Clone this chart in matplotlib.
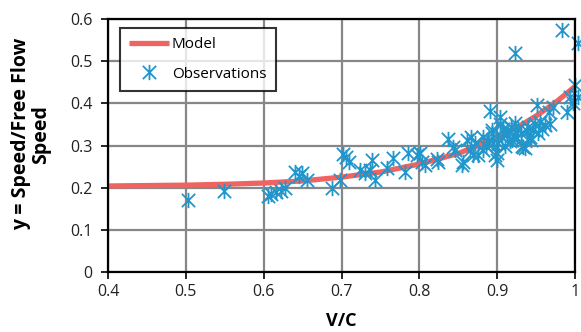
import matplotlib
matplotlib.use("Agg")
import matplotlib.pyplot as plt
from matplotlib.path import Path

# ---- data ----
obs_x = [0.503, 0.549, 0.605, 0.610, 0.616, 0.622, 0.628, 0.640, 0.645, 0.649,
         0.656, 0.688, 0.698, 0.702, 0.706, 0.709, 0.724, 0.730, 0.737, 0.739,
         0.743, 0.758, 0.766, 0.782, 0.785, 0.797, 0.801, 0.803, 0.807, 0.823,
         0.824, 0.837, 0.843, 0.846, 0.855, 0.856, 0.861, 0.865, 0.867, 0.869,
         0.872, 0.876, 0.882, 0.882, 0.886, 0.888, 0.891, 0.893, 0.894, 0.895,
         0.897, 0.900, 0.900, 0.901, 0.904, 0.904, 0.906, 0.908, 0.910, 0.912,
         0.914, 0.916, 0.918, 0.919, 0.921, 0.923, 0.923, 0.925, 0.927, 0.930,
         0.932, 0.933, 0.936, 0.938, 0.940, 0.942, 0.944, 0.946, 0.948, 0.951,
         0.953, 0.955, 0.958, 0.962, 0.966, 0.968, 0.972, 0.983, 0.990, 0.993,
         0.998, 1.000, 1.004, 1.004]
obs_y = [0.171, 0.192, 0.180, 0.186, 0.190, 0.192, 0.200, 0.237, 0.228, 0.234,
         0.218, 0.200, 0.218, 0.281, 0.272, 0.260, 0.242, 0.234, 0.243, 0.266,
         0.218, 0.246, 0.270, 0.237, 0.282, 0.277, 0.282, 0.260, 0.253, 0.268,
         0.262, 0.316, 0.296, 0.289, 0.253, 0.260, 0.313, 0.289, 0.320, 0.277,
         0.306, 0.277, 0.320, 0.289, 0.300, 0.311, 0.382, 0.336, 0.329, 0.306,
         0.277, 0.282, 0.265, 0.306, 0.350, 0.367, 0.320, 0.340, 0.300, 0.328,
         0.336, 0.310, 0.345, 0.313, 0.325, 0.353, 0.519, 0.318, 0.338, 0.329,
         0.300, 0.296, 0.294, 0.335, 0.344, 0.320, 0.312, 0.336, 0.350, 0.396,
         0.330, 0.355, 0.340, 0.348, 0.379, 0.352, 0.391, 0.573, 0.379, 0.415,
         0.400, 0.443, 0.415, 0.543]

model_x = [0.40, 0.45, 0.50, 0.55, 0.60, 0.65, 0.70, 0.75, 0.80, 0.85, 0.90, 0.925, 0.95, 0.975, 1.00]
model_y = [0.204, 0.205, 0.206, 0.208, 0.211, 0.216, 0.225, 0.237, 0.256, 0.281, 0.319, 0.342, 0.370, 0.402, 0.440]

x_ticks = [0.4, 0.5, 0.6, 0.7, 0.8, 0.9, 1.0]
x_tick_labels = ["0.4", "0.5", "0.6", "0.7", "0.8", "0.9", "1"]
y_ticks = [0, 0.1, 0.2, 0.3, 0.4, 0.5, 0.6]
y_tick_labels = ["0", "0.1", "0.2", "0.3", "0.4", "0.5", "0.6"]

plt.rcParams['font.family'] = ['Open Sans', 'DejaVu Sans']

fig = plt.figure(figsize=(5.81, 3.32), dpi=100)
ax = fig.add_axes([108/581, 1-272/332, (575-108)/581, (272-19)/332])

star = Path([(-1, -1), (1, 1), (1, -1), (-1, 1), (0, -1.15), (0, 1.15)],
            [Path.MOVETO, Path.LINETO, Path.MOVETO, Path.LINETO, Path.MOVETO, Path.LINETO])

blue = '#2196CC'
red = '#EF6361'

ax.plot(model_x, model_y, color=red, lw=3.8, label='Model', zorder=3, solid_capstyle='butt')
ax.plot(obs_x, obs_y, linestyle='none', marker=star, markersize=11, markeredgewidth=1.3,
        markeredgecolor=blue, markerfacecolor='none', label='Observations', zorder=4, clip_on=False)

ax.set_xlim(0.4, 1.0)
ax.set_ylim(0, 0.6)
ax.set_xticks(x_ticks)
ax.set_xticklabels(x_tick_labels)
ax.set_yticks(y_ticks)
ax.set_yticklabels(y_tick_labels)
ax.grid(True, color='#878787', linewidth=1.6)
ax.set_axisbelow(True)
for s in ax.spines.values():
    s.set_color('black')
    s.set_linewidth(1.6)
    s.set_zorder(5)
ax.tick_params(axis='both', direction='out', length=5, width=1.2, color='black',
               labelsize=11.5, labelcolor='#222222')
ax.tick_params(axis='y', pad=6)
ax.tick_params(axis='x', pad=4)

ax.set_xlabel('V/C', fontsize=13, fontweight='bold')
ax.xaxis.set_label_coords(0.5, -0.158)
ax.set_ylabel('y = Speed/Free Flow\nSpeed', fontsize=14, fontweight='bold', linespacing=1.0)
ax.yaxis.set_label_coords(-0.122, 0.545)

leg = ax.legend(loc='upper left', bbox_to_anchor=((120-108)/467, 1-(28-19)/253),
                frameon=True, fancybox=False, edgecolor='black', fontsize=11,
                handlelength=2.6, handletextpad=0.2, borderpad=0.6, labelspacing=0.95,
                borderaxespad=0)
leg.get_frame().set_linewidth(1.5)
leg.set_zorder(6)

fig.savefig('out.png', dpi=100)
